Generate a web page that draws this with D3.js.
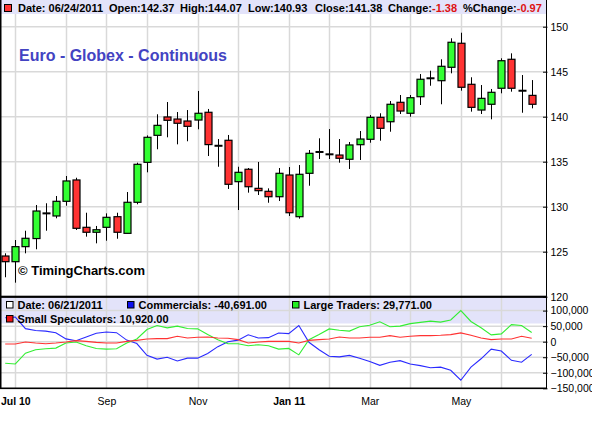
<!DOCTYPE html>
<html><head><meta charset="utf-8">
<script src="https://cdn.jsdelivr.net/npm/d3@7/dist/d3.min.js"></script>
<style>
html,body{margin:0;padding:0;background:#fff;}
svg{display:block;font-family:"Liberation Sans",Arial,Helvetica,sans-serif;}
</style></head>
<body>
<svg id="c" width="592" height="424"></svg>
<script>
// ---------- DATA ----------
const weeks = ["2010-06-25","2010-07-02","2010-07-09","2010-07-16","2010-07-23","2010-07-30",
"2010-08-06","2010-08-13","2010-08-20","2010-08-27","2010-09-03","2010-09-10","2010-09-17","2010-09-24",
"2010-10-01","2010-10-08","2010-10-15","2010-10-22","2010-10-29","2010-11-05","2010-11-12","2010-11-19",
"2010-11-26","2010-12-03","2010-12-10","2010-12-17","2010-12-24","2010-12-31","2011-01-07","2011-01-14",
"2011-01-21","2011-01-28","2011-02-04","2011-02-11","2011-02-18","2011-02-25","2011-03-04","2011-03-11",
"2011-03-18","2011-03-25","2011-04-01","2011-04-08","2011-04-15","2011-04-22","2011-04-29","2011-05-06",
"2011-05-13","2011-05-20","2011-05-27","2011-06-03","2011-06-10","2011-06-17","2011-06-24"];

const open  = [124.52,123.89,125.56,126.46,129.30,128.97,130.60,132.97,127.71,127.16,127.71,128.89,127.04,130.49,
134.93,137.93,139.97,139.74,139.52,139.63,140.49,136.80,137.38,132.78,134.16,132.04,131.71,131.11,133.52,128.89,
133.71,136.10,135.84,135.74,135.27,136.89,137.49,139.93,139.44,141.60,140.38,142.22,144.38,144.00,145.49,148.16,
143.60,140.74,141.38,143.16,146.38,142.90,142.37];
const high  = [124.82,126.30,127.33,130.19,130.38,131.19,133.41,133.22,129.33,127.86,129.26,129.33,131.63,134.89,
137.92,140.27,141.63,140.52,140.74,142.86,140.86,137.52,137.97,134.44,134.30,134.97,132.04,134.30,134.41,134.63,
136.30,137.60,138.63,137.52,137.19,138.41,140.19,140.38,141.74,142.41,142.41,144.74,145.11,146.38,148.71,149.33,
144.38,143.52,143.08,146.49,147.04,144.63,144.07];
const low   = [122.16,121.56,124.82,125.27,127.33,128.71,130.11,127.41,126.67,125.93,126.22,126.44,127.04,130.27,
133.82,136.38,137.71,136.93,137.27,138.60,135.63,134.44,131.97,129.63,131.56,131.30,130.44,130.63,128.97,128.67,
132.33,135.30,135.30,134.89,134.19,135.19,137.11,137.33,138.33,140.30,140.00,141.30,143.44,141.38,144.82,142.89,
140.56,140.30,139.71,142.60,142.78,140.44,140.93];
const close = [123.89,125.56,126.49,129.52,129.22,130.60,132.86,127.60,127.16,127.44,128.82,127.16,130.49,134.71,
137.71,139.04,139.60,139.27,138.93,140.38,136.90,136.74,132.49,133.82,132.22,131.78,131.11,133.71,129.33,133.60,
135.93,136.06,135.80,135.38,136.86,137.52,139.93,138.71,141.38,140.63,142.11,144.16,144.16,145.60,148.27,143.27,
141.04,142.04,142.71,146.22,143.16,142.87,141.38];

const commercials = [77100,79300,42000,36000,34000,29000,9000,3000,15000,27000,31000,29000,5000,-6000,
-44000,-56000,-50000,-62000,-53000,-53000,-38000,-16000,0,5000,22000,12000,13000,28000,26000,52000,
-2000,-26000,-47000,-49000,-44000,-53000,-64000,-76000,-66000,-61000,-72000,-77000,-84000,-82000,-92000,-124000,
-82000,-55000,-24000,-30000,-60000,-66000,-40691];
const largeTraders = [-69500,-71700,-37000,-26000,-22800,-20700,-4300,-1000,-13000,-21700,-23900,-22800,-4300,8700,
39000,52000,44600,50000,42400,41300,22800,6500,-6500,-6500,-13000,-9800,-13000,-23900,-21700,-42400,
6500,23000,41000,37000,34000,48000,53000,64000,48000,50000,58000,62000,66000,63000,70000,100000,
65000,45000,22000,25000,55000,52000,29771];
const smallSpecs = [-7600,-7600,-1100,-4300,-6500,-4300,-1100,3300,1100,-2200,-4300,-4300,1100,4300,
8700,9800,9800,17400,12000,14100,15200,12000,10900,6500,-4300,-1100,1100,1100,1100,-4300,
4300,6500,8700,15200,12000,12000,14100,14100,19600,14100,17400,19600,19600,20700,22800,28300,
20700,12000,6500,8700,8700,17400,10920];

const priceTicks = [120,125,130,135,140,145,150];
const cotTicks = [100000,50000,0,-50000,-100000,-150000];
const tickDates  = ["2010-07-02","2010-09-03","2010-11-05","2011-01-07","2011-03-04","2011-05-06"];
const tickLabels = ["Jul 10","Sep","Nov","Jan 11","Mar","May"];

const headerParts = [
  {x:18,  t:"Date: 06/24/2011"},
  {x:109, t:"Open:142.37"},
  {x:180, t:"High:144.07"},
  {x:248, t:"Low:140.93"},
  {x:315, t:"Close:141.38"},
  {x:388, t:"Change:", r:"-1.38"},
  {x:463, t:"%Change:", r:"-0.97"}
];
const title = "Euro - Globex - Continuous";
const copyright = "\u00A9 TimingCharts.com";
const cotDate = "Date: 06/21/2011";

// ---------- LAYOUT ----------
const L = 0, R = 546;
const mainTop = 0, mainBot = 296.7, subBot = 388.3;
const svg = d3.select("#c");
const grid = "#d9d9d9";
const GREEN = "#33ff33", RED = "#ff3333";

const x = d3.scalePoint().domain(weeks).range([5.2, 531.7]);
const y = d3.scaleLinear().domain([120,150]).range([mainBot, 26.7]);
const y2 = d3.scaleLinear().domain([-150000,100000]).range([subBot, 310.6]);

svg.append("rect").attr("width",592).attr("height",424).attr("fill","#fff");

// legend band (below grid)
svg.append("rect").attr("x",L).attr("y",mainBot).attr("width",R-L).attr("height",323.5-mainBot).attr("fill","#e3e3fa");

// month gridlines: first week of each month
const parse = d3.timeParse("%Y-%m-%d");
const gridWeeks = weeks.filter((w,i)=> i>0 && parse(w).getMonth() !== parse(weeks[i-1]).getMonth());
svg.append("g").selectAll("line").data(gridWeeks).join("line")
  .attr("x1",d=>Math.round(x(d))+0.5).attr("x2",d=>Math.round(x(d))+0.5)
  .attr("y1",mainTop).attr("y2",subBot)
  .attr("stroke",grid).attr("stroke-width",1.5);
svg.append("g").selectAll("line").data(priceTicks.filter(d=>d>120)).join("line")
  .attr("x1",L).attr("x2",R).attr("y1",d=>y(d)).attr("y2",d=>y(d))
  .attr("stroke",grid).attr("stroke-width",1.5);
svg.append("g").selectAll("line").data(cotTicks.filter(d=>d>-150000)).join("line")
  .attr("x1",L).attr("x2",R).attr("y1",d=>y2(d)).attr("y2",d=>y2(d))
  .attr("stroke",grid).attr("stroke-width",1.5);

// header band
svg.append("rect").attr("x",L).attr("y",0).attr("width",R-L).attr("height",14).attr("fill","#e3e3fa");

// candles
const cg = svg.append("g");
weeks.forEach((w,i)=>{
  const cx = Math.round(x(w));
  const o=open[i], c=close[i], h=high[i], l=low[i];
  cg.append("line").attr("x1",cx+0.5).attr("x2",cx+0.5).attr("y1",y(h)).attr("y2",y(l))
    .attr("stroke","#000").attr("stroke-width",1);
  const top = y(Math.max(o,c)), bot = y(Math.min(o,c));
  if (bot-top < 2) {
    cg.append("rect").attr("x",cx-3.5).attr("y",(top+bot)/2-1).attr("width",8).attr("height",2).attr("fill","#000");
  } else {
    cg.append("rect").attr("x",cx-3).attr("y",top).attr("width",7).attr("height",bot-top)
      .attr("fill", c>=o ? GREEN : RED).attr("stroke","#000").attr("stroke-width",1.2);
  }
});

// COT lines
const series = [
  {v:commercials, c:"#2a2aff"},
  {v:largeTraders, c:"#33ee33"},
  {v:smallSpecs, c:"#ff3333"}
];
const line = d3.line().x((d,i)=>x(weeks[i])).y(d=>y2(d));
series.forEach(s=>{
  svg.append("path").attr("d",line(s.v)).attr("fill","none").attr("stroke",s.c).attr("stroke-width",1.1);
});

// titles
svg.append("text").attr("x",19).attr("y",61).attr("font-size",16).attr("font-weight","bold")
  .attr("fill","#4343c2").text(title);
svg.append("text").attr("x",18).attr("y",274.5).attr("font-size",13).attr("font-weight","bold")
  .attr("fill","#000").text(copyright);

// header
svg.append("rect").attr("x",4.5).attr("y",4.5).attr("width",7).attr("height",7).attr("fill",RED).attr("stroke","#000");
headerParts.forEach(p=>{
  const t = svg.append("text").attr("x",p.x).attr("y",12).attr("font-size",11).attr("font-weight","bold").attr("fill","#000");
  t.append("tspan").text(p.t);
  if (p.r) t.append("tspan").attr("fill","#dd1111").text(p.r);
});

// COT legend
const legend = [
  {x:6,   y:309, fill:"#fff",    t:cotDate},
  {x:127, y:309, fill:"#1010ee", t:"Commercials: -40,691.00"},
  {x:292, y:309, fill:"#22ee22", t:"Large Traders: 29,771.00"},
  {x:6,   y:323, fill:"#ee1111", t:"Small Speculators: 10,920.00"}
];
legend.forEach(d=>{
  svg.append("rect").attr("x",d.x+0.5).attr("y",d.y-7.5).attr("width",6.5).attr("height",6.5)
    .attr("fill",d.fill).attr("stroke","#000").attr("stroke-width",1);
  svg.append("text").attr("x",d.x+11.5).attr("y",d.y).attr("font-size",11).attr("font-weight","bold").attr("fill","#000").text(d.t);
});

// frame lines
svg.append("rect").attr("x",0).attr("y",0).attr("width",1.5).attr("height",subBot+0.7).attr("fill","#000");
svg.append("line").attr("x1",R+0.5).attr("x2",R+0.5).attr("y1",0).attr("y2",subBot+0.7).attr("stroke","#000").attr("stroke-width",1);
svg.append("rect").attr("x",0).attr("y",mainBot-1).attr("width",R+1).attr("height",2.2).attr("fill","#000");
svg.append("rect").attr("x",0).attr("y",subBot-0.8).attr("width",R+1).attr("height",1.6).attr("fill","#000");

// right axes
const ya = svg.append("g").attr("transform",`translate(${R+0.5},0)`)
  .call(d3.axisRight(y).tickValues(priceTicks).tickSize(0).tickPadding(4));
const ya2 = svg.append("g").attr("transform",`translate(${R+0.5},0)`)
  .call(d3.axisRight(y2).tickValues(cotTicks).tickSize(0).tickPadding(4).tickFormat(d3.format(",")));
[ya,ya2].forEach(a=>{
  a.select(".domain").remove();
  a.selectAll(".tick text").attr("font-size",10.5).attr("fill","#000")
    .attr("font-family","'Liberation Sans',Arial,sans-serif").text(function(){return this.textContent.replace("\u2212","-");});
  a.selectAll(".tick").append("line").attr("x1",-3.5).attr("x2",1).attr("stroke","#000");
});
ya2.selectAll(".tick text").text(d=> d<0 ? "\u2212"+d3.format(",")(-d) : d3.format(",")(d));

// bottom axis
const xa = svg.append("g").attr("transform",`translate(0,${subBot})`)
  .call(d3.axisBottom(x).tickValues(tickDates).tickSize(0).tickPadding(9)
    .tickFormat((d,i)=>tickLabels[i]));
xa.select(".domain").remove();
xa.selectAll(".tick text").attr("font-size",10.5).attr("fill","#000")
  .attr("font-family","'Liberation Sans',Arial,sans-serif")
  .attr("font-weight",(d,i)=> tickLabels[i].includes(" ") ? "bold" : "normal");
</script>
</body></html>
